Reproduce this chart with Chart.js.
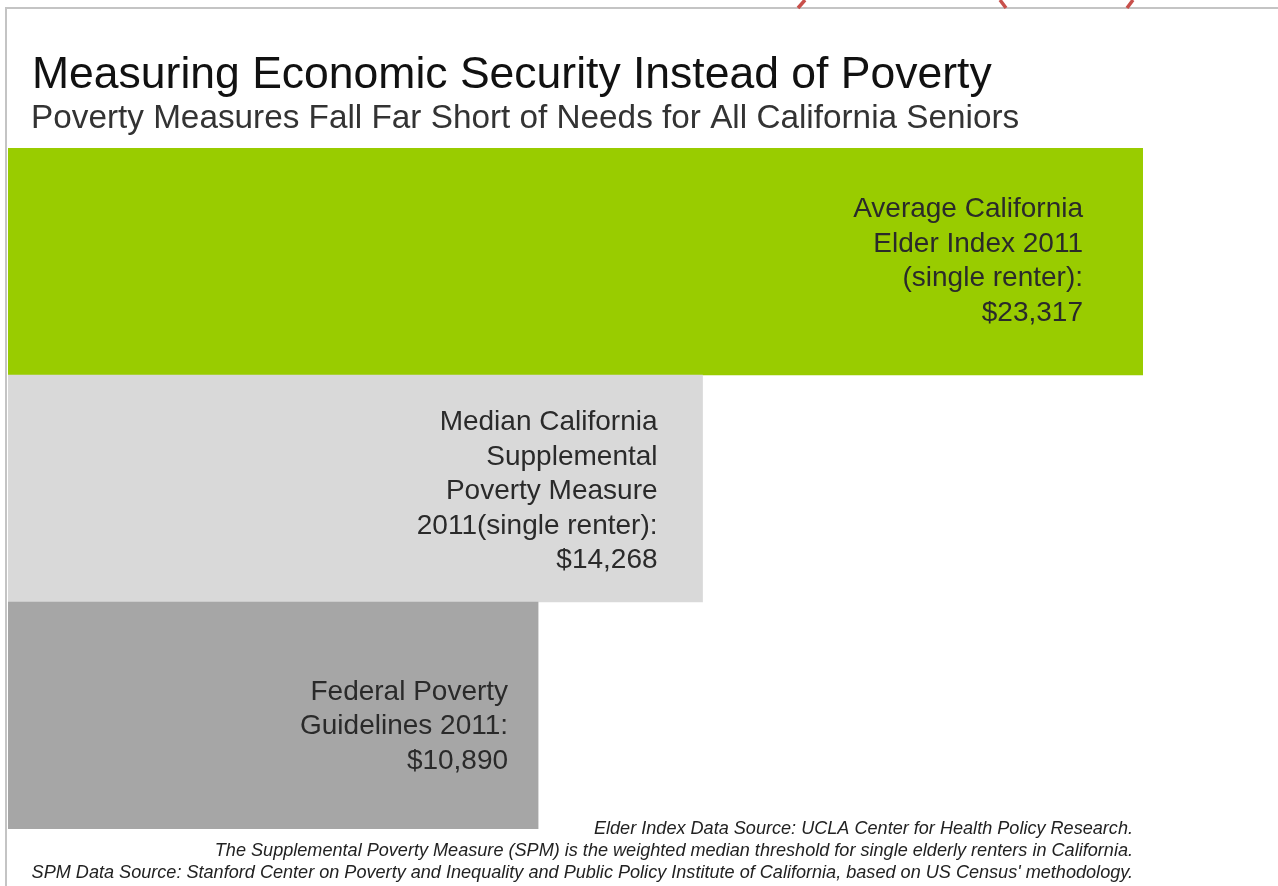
<!DOCTYPE html>
<html>
<head>
<meta charset="utf-8">
<script src="https://cdn.jsdelivr.net/npm/chart.js@4.4.0/dist/chart.umd.min.js"></script>
<style>
  html, body { margin: 0; padding: 0; background: #fff; }
  #wrap { width: 1278px; height: 886px; }
</style>
</head>
<body>
<div id="wrap"><canvas id="grafico" width="1278" height="886"></canvas></div>
<script>
// Categorias (linhas do texto dentro de cada barra)
const categorias = [
    ['Average California', 'Elder Index 2011', '(single renter):', '$23,317'],
    ['Median California', 'Supplemental', 'Poverty Measure', '2011(single renter):', '$14,268'],
    ['Federal Poverty', 'Guidelines 2011:', '$10,890']
];

// Valores anuais em dólares
const valores = [23317, 14268, 10890];

const cores = ['#99cc00', '#d9d9d9', '#a6a6a6'];

const titulo = 'Measuring Economic Security Instead of Poverty';
const subtitulo = 'Poverty Measures Fall Far Short of Needs for All California Seniors';
const notas = [
    'Elder Index Data Source: UCLA Center for Health Policy Research.',
    'The Supplemental Poverty Measure (SPM) is the weighted median threshold for single elderly renters in California.',
    'SPM Data Source: Stanford Center on Poverty and Inequality and Public Policy Institute of California, based on US Census\' methodology.'
];

const fonte = '"Liberation Sans", Arial, Helvetica, sans-serif';

// Plugin para moldura, títulos, rótulos internos e notas
const decoracao = {
    id: 'decoracao',
    beforeDraw(chart) {
        const ctx = chart.ctx;
        ctx.save();
        // moldura cinza
        ctx.strokeStyle = '#c4c4c4';
        ctx.lineWidth = 2;
        ctx.beginPath();
        ctx.moveTo(1278, 8);
        ctx.lineTo(6, 8);
        ctx.lineTo(6, 886);
        ctx.stroke();
        // traços vermelhos cortados no topo
        ctx.strokeStyle = '#c8504b';
        ctx.lineWidth = 3.5;
        ctx.lineCap = 'butt';
        ctx.beginPath();
        ctx.moveTo(805, 0); ctx.lineTo(798, 8);
        ctx.moveTo(1000, 0); ctx.lineTo(1006, 8);
        ctx.moveTo(1133, 0); ctx.lineTo(1127, 8);
        ctx.stroke();
        ctx.restore();
    },
    afterDatasetsDraw(chart) {
        const ctx = chart.ctx;
        ctx.save();
        ctx.fillStyle = '#111';
        ctx.textBaseline = 'alphabetic';
        ctx.textAlign = 'left';
        ctx.font = '44.5px ' + fonte;
        ctx.fillText(titulo, 32, 88);
        ctx.fillStyle = '#333';
        ctx.font = '33.3px ' + fonte;
        ctx.fillText(subtitulo, 31, 128);

        // rótulos dentro das barras
        const meta = chart.getDatasetMeta(0);
        const recuos = [60, 45, 30];
        const ajusteY = [0, 3, 11];
        ctx.font = '28px ' + fonte;
        ctx.fillStyle = '#2a2a2a';
        ctx.textAlign = 'right';
        ctx.textBaseline = 'middle';
        meta.data.forEach((barra, i) => {
            const linhas = categorias[i];
            const alturaLinha = 34.5;
            const y0 = barra.y + ajusteY[i] - (linhas.length - 1) * alturaLinha / 2;
            linhas.forEach((linha, j) => {
                ctx.fillText(linha, barra.x - recuos[i], y0 + j * alturaLinha);
            });
        });

        // notas de rodapé
        ctx.font = 'italic 18.1px ' + fonte;
        ctx.fillStyle = '#222';
        notas.forEach((nota, j) => {
            ctx.fillText(nota, 1133, 829 + j * 22);
        });
        ctx.restore();
    }
};

const contexto = document.getElementById('grafico').getContext('2d');
const meuGrafico = new Chart(contexto, {
    type: 'bar',
    data: {
        labels: categorias,
        datasets: [{
            data: valores,
            backgroundColor: cores,
            borderWidth: 0,
            barPercentage: 1,
            categoryPercentage: 1
        }]
    },
    options: {
        indexAxis: 'y',
        responsive: false,
        animation: false,
        layout: {
            padding: { left: 8, right: 135, top: 148, bottom: 57 }
        },
        scales: {
            x: { display: false, min: 0, max: 23317 },
            y: { display: false }
        },
        plugins: {
            legend: { display: false },
            tooltip: { enabled: false }
        }
    },
    plugins: [decoracao]
});
</script>
</body>
</html>
